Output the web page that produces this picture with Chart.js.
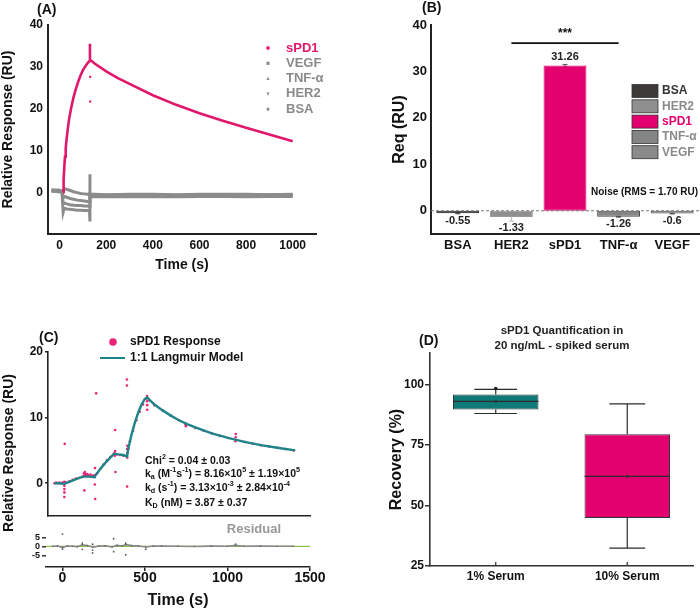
<!DOCTYPE html>
<html><head><meta charset="utf-8">
<script src="https://cdn.jsdelivr.net/npm/chart.js@4.4.1/dist/chart.umd.min.js"></script>
<style>
html,body{margin:0;padding:0;background:#fff;}
#wrap{position:relative;width:700px;height:610px;overflow:hidden;background:#fff;}
canvas{position:absolute;}
</style></head><body>
<div id="wrap">
<canvas id="cA" width="350" height="290" style="left:0;top:0"></canvas>
<canvas id="cB" width="350" height="290" style="left:350px;top:0"></canvas>
<canvas id="cC" width="350" height="310" style="left:0;top:300px"></canvas>
<canvas id="cR" width="350" height="90" style="left:0;top:520px"></canvas>
<canvas id="cD" width="350" height="310" style="left:350px;top:300px"></canvas>
</div>
<script>
// ================= DATA =================
// ---- Panel A: sensorgrams ----
const seriesA = ['sPD1','VEGF','TNF-α','HER2','BSA'];
const xTicksA = [0,200,400,600,800,1000];
const yTicksA = [0,10,20,30,40];
const timeSPD1 = [15,17,20,23,26,30,35,40,50,60,70,80,90,100,110,120,128,130,130,135,150,200,250,300,400,500,600,700,800,900,1000];
const respSPD1 = [0,3,6,8.5,10.5,12.8,15.2,17.3,20.3,22.8,24.8,26.5,28,29.2,30.1,30.9,31.4,35.5,31.6,31.5,30.8,28.9,27.3,25.9,23.2,20.9,18.9,17.1,15.4,13.8,12.2];
const strayTimeSPD1 = [131,131];
const strayRespSPD1 = [27.6,21.7];
const timeGray = [-35,-20,-5,10,15,20,30,45,60,75,90,105,120,128,130,130,132,150,200,300,400,500,600,700,800,900,1000];
const respVEGF = [0.6,0.5,0.5,0.3,0.2,0.8,0.7,0.4,0.1,-0.1,-0.3,-0.4,-0.5,-0.6,4.3,-0.5,-0.5,-0.5,-0.6,-0.5,-0.5,-0.6,-0.5,-0.5,-0.5,-0.6,-0.5];
const respTNF  = [0.4,0.3,0.3,0.2,-1.2,-1.0,-1.2,-1.5,-1.7,-1.9,-2.0,-2.1,-2.2,-2.3,-2.3,-0.9,-0.9,-0.8,-0.9,-0.8,-0.8,-0.9,-0.8,-0.8,-0.9,-0.8,-0.8];
const respHER2 = [0.2,0.2,0.1,0,-2.5,-2.6,-2.8,-3.0,-3.1,-3.2,-3.2,-3.3,-3.3,-3.4,-3.4,-1.2,-1.1,-1.1,-1.0,-1.1,-1.0,-1.1,-1.0,-1.0,-1.1,-1.0,-1.0];
const respBSA  = [0.3,0.3,0.2,0.1,-4.8,-3.8,-4.0,-4.1,-4.2,-4.3,-4.3,-4.4,-4.4,-4.5,-7.0,-0.6,-0.7,-0.6,-0.7,-0.6,-0.6,-0.7,-0.6,-0.6,-0.7,-0.6,-0.6];

// ---- Panel B: equilibrium response ----
const categoriesB = ['BSA','HER2','sPD1','TNF-α','VEGF'];
const reqB = [-0.55,-1.33,31.26,-1.26,-0.6];
const errB = [0.1,0.9,0.25,0.1,0.08];
const valueLabelsB = ['-0.55','-1.33','31.26','-1.26','-0.6'];
const yTicksB = [0,10,20,30,40];
const noiseRMS = 1.70;

// ---- Panel C: kinetics fit ----
const xTicksC = [0,500,1000,1500];
const yTicksC = [0,10,20];
const yTicksRes = [-5,0,5];
const modelT = [-60,-30,0,30,60,90,120,150,185,190,220,250,280,305,330,360,383,390,410,430,450,470,490,505,520,550,600,650,700,750,800,900,1000,1100,1200,1300,1410];
const modelR = [0,0,-0.1,0.2,0.5,0.8,1.0,1.0,0.9,1.2,2.2,3.1,3.9,4.5,4.4,4.3,4.1,5.2,7.4,9.2,10.7,11.9,12.8,13.1,12.7,12.0,11.1,10.3,9.6,9.0,8.5,7.6,6.9,6.3,5.8,5.4,5.0];
const respT = [-60,-50,-40,-30,-20,-10,0,0,0,0,0,2,10,30,50,70,90,110,120,122,125,128,130,135,140,150,160,170,180,122,185,187,188,186,194,200,220,240,260,280,300,305,308,310,310,312,320,340,360,380,383,383,384,384,383,382,382,390,400,420,440,460,480,500,505,505,506,506,520,550,600,650,700,740,742,800,850,900,950,1000,1045,1046,1047,1100,1150,1200,1250,1300,1350,1400];
const respR = [0,0.1,0,0.1,0,0.1,0.2,-0.4,-0.9,-1.4,-2.1,6.0,0.1,0.3,0.5,0.7,0.8,1.0,1.5,1.2,1.7,1.3,1.4,1.2,1.4,1.2,1.3,1.1,1.2,-1.1,1.0,2.3,-2.4,-0.2,13.7,1.5,2.2,2.9,3.5,4.0,4.4,4.6,4.2,4.9,8.1,1.7,4.4,4.3,4.2,4.1,4.6,5.2,5.7,3.9,-0.5,15.8,14.9,5.3,6.4,8.0,9.6,10.9,12.0,12.9,13.3,12.5,11.9,11.2,12.6,11.9,11.1,10.3,9.6,9.0,8.7,8.4,8.0,7.6,7.2,6.9,6.4,7.0,7.5,6.3,6.0,5.8,5.6,5.4,5.2,5.0];
const resT = [-60,-30,0,30,60,90,120,150,185,220,260,300,330,360,383,420,460,505,550,600,700,800,900,1000,1049,1100,1200,1300,1400];
const resR = [0,0.2,-0.6,0.2,0,-0.2,0.8,0.4,-0.5,0.2,0.3,-0.4,0.5,0.2,0.9,0.4,0.2,-0.4,0.2,0.1,0,-0.1,0.1,0,0.5,0,0.1,0,0];
const resOutT = [0,0,120,120,182,182,182,310,310,383,383,505,1049];
const resOutR = [6.8,-1.5,1.8,-1.7,1.2,-2.1,-3.7,4.2,-3.0,1.7,-4.7,-1.6,1.2];
const fitChi2 = '0.04 ± 0.03';
const fitKa = ['8.16×10','5',' ± 1.19×10','5'];
const fitKd = ['3.13×10','-3',' ± 2.84×10','-4'];
const fitKD = '3.87 ± 0.37';

// ---- Panel D: recovery box plots ----
const groupsD = ['1% Serum','10% Serum'];
const q1D = [89.7,44.8];
const medianD = [93,62];
const q3D = [95.9,79.4];
const minD = [88,32.4];
const maxD = [98,92];
const meanD = [93,62];
const extraPointsD = [[98.3],[]];
const yTicksD = [25,50,75,100];

// ================= STYLE / HELPERS =================
const FONT = "'Liberation Sans', Arial, Helvetica, sans-serif";
Chart.defaults.font.family = FONT;
Chart.defaults.font.weight = 'bold';
Chart.defaults.color = '#111';
const PINK = '#e3006f', PINK_A = '#e0176b', PINK_C = '#ee2277';
const TEAL_C = '#1d8588', TEAL_D = '#0e7b78', GRAY = '#8c8c8c';
const pts = (xs, ys) => xs.map((x, i) => ({x, y: ys[i]}));
const fixW = w => s => { s.width = w; };
const fixH = h => s => { s.height = h; };
const setTicks = arr => s => { s.ticks = arr.map(v => ({value: v})); };
const plain = v => String(v);
const baseOpts = {responsive:false, animation:false, events:[]};

function txt(ctx, t, x, y, size, color, align, rot) {
  ctx.save();
  ctx.font = `bold ${size}px ${FONT}`;
  ctx.fillStyle = color || '#111';
  ctx.textAlign = align || 'left';
  ctx.textBaseline = 'middle';
  ctx.translate(x, y);
  if (rot) ctx.rotate(rot);
  ctx.fillText(t, 0, 0);
  ctx.restore();
}
function rich(ctx, x, y, segs, size) {
  ctx.save();
  ctx.fillStyle = '#111'; ctx.textBaseline = 'middle'; ctx.textAlign = 'left';
  let cx = x;
  segs.forEach(([t, k]) => {
    const s = k ? size * 0.68 : size;
    ctx.font = `bold ${s}px ${FONT}`;
    const dy = k === 'sup' ? -size * 0.38 : (k === 'sub' ? size * 0.32 : 0);
    ctx.fillText(t, cx, y + dy);
    cx += ctx.measureText(t).width;
  });
  ctx.restore();
}
function marker(ctx, shape, x, y, r, color) {
  ctx.save(); ctx.fillStyle = color; ctx.beginPath();
  if (shape === 'rect') ctx.rect(x - r, y - r, 2 * r, 2 * r);
  else if (shape === 'tri') { ctx.moveTo(x, y - r * 1.2); ctx.lineTo(x + r, y + r * 0.8); ctx.lineTo(x - r, y + r * 0.8); }
  else if (shape === 'triDown') { ctx.moveTo(x, y + r * 1.2); ctx.lineTo(x + r, y - r * 0.8); ctx.lineTo(x - r, y - r * 0.8); }
  else if (shape === 'diamond') { ctx.moveTo(x, y - r * 1.3); ctx.lineTo(x + r * 1.1, y); ctx.lineTo(x, y + r * 1.3); ctx.lineTo(x - r * 1.1, y); }
  else ctx.arc(x, y, r, 0, Math.PI * 2);
  ctx.closePath(); ctx.fill(); ctx.restore();
}
function seg(ctx, x1, y1, x2, y2) { ctx.beginPath(); ctx.moveTo(x1, y1); ctx.lineTo(x2, y2); ctx.stroke(); }

// ================= PANEL A =================
const shapesA = ['rect','rect','tri','triDown','diamond'];
const legendColorsA = [PINK_A, GRAY, GRAY, GRAY, GRAY];
const plugA = {
  id: 'plugA',
  afterDraw(chart) {
    const ctx = chart.ctx;
    txt(ctx, '(A)', 37, 10, 14, '#111');
    seriesA.forEach((name, i) => {
      const y = 48 + i * 15.3;
      marker(ctx, shapesA[i], 268, y, 1.6, legendColorsA[i]);
      txt(ctx, name, 286, y, 13, i === 0 ? PINK_A : '#8a8a8a');
    });
  }
};
const grayLine = (label, data) => ({label, data: pts(timeGray, data), borderColor: GRAY, borderWidth: 3, pointRadius: 0, tension: 0});
new Chart(document.getElementById('cA'), {
  type: 'line',
  data: {datasets: [
    {label: seriesA[0], data: pts(timeSPD1, respSPD1), borderColor: PINK_A, borderWidth: 2.6, pointRadius: 0, tension: 0},
    {label: 'sPD1 points', data: pts(strayTimeSPD1, strayRespSPD1), showLine: false, pointStyle: 'rect', pointRadius: 1.5, backgroundColor: PINK_A, borderWidth: 0},
    grayLine(seriesA[1], respVEGF), grayLine(seriesA[2], respTNF), grayLine(seriesA[3], respHER2), grayLine(seriesA[4], respBSA)
  ]},
  options: Object.assign({}, baseOpts, {
    layout: {padding: {top: 25, right: 34, left: 0, bottom: 0}},
    plugins: {legend: {display: false}, tooltip: {enabled: false}},
    scales: {
      x: {type: 'linear', min: -50, max: 1100, afterBuildTicks: setTicks(xTicksA), afterFit: fixH(56),
          grid: {display: false, drawTicks: false}, border: {display: true, color: '#222', width: 2},
          ticks: {padding: 4, color: '#111', font: {size: 12, weight: 'bold'}, maxRotation: 0, autoSkip: false, callback: plain},
          title: {display: true, text: 'Time (s)', color: '#111', font: {size: 14, weight: 'bold'}, padding: {top: 0, bottom: 16}}},
      y: {type: 'linear', min: -10, max: 40, afterBuildTicks: setTicks(yTicksA), afterFit: fixW(48),
          grid: {display: false, drawTicks: false}, border: {display: true, color: '#222', width: 2},
          ticks: {padding: 5, color: '#111', font: {size: 12, weight: 'bold'}, callback: plain},
          title: {display: true, text: 'Relative Response (RU)', color: '#111', font: {size: 14, weight: 'bold'}, padding: {top: 0, bottom: 0}}}
    }
  }),
  plugins: [plugA]
});

// ================= PANEL B =================
const barColorsB = ['#3f3a3a','#8f8f8f',PINK,'#858585','#8a8a8a'];
const barBordersB = ['#222','#9a9a9a',PINK,'#444','#555'];
const legendTextB = ['#333','#8a8a8a',PINK,'#8a8a8a','#8a8a8a'];
const errColorsB = ['#444','#bdbdbd','#555','#444','#444'];
const plugB = {
  id: 'plugB',
  beforeDatasetsDraw(chart) {
    const ctx = chart.ctx, ys = chart.scales.y, meta = chart.getDatasetMeta(0);
    meta.data.forEach((bar, i) => {
      ctx.save(); ctx.strokeStyle = errColorsB[i]; ctx.lineWidth = 1;
      const yt = ys.getPixelForValue(reqB[i] + errB[i]), yb = ys.getPixelForValue(reqB[i] - errB[i]);
      seg(ctx, bar.x, yt, bar.x, yb); seg(ctx, bar.x - 2.5, yt, bar.x + 2.5, yt); seg(ctx, bar.x - 2.5, yb, bar.x + 2.5, yb);
      ctx.restore();
    });
  },
  afterDatasetsDraw(chart) {
    const ctx = chart.ctx, ys = chart.scales.y, xs = chart.scales.x, a = chart.chartArea, meta = chart.getDatasetMeta(0);
    ctx.save(); ctx.strokeStyle = '#777'; ctx.lineWidth = 1; ctx.setLineDash([3, 2]);
    const y0 = ys.getPixelForValue(0); seg(ctx, a.left, y0, a.right, y0); ctx.restore();
    meta.data.forEach((bar, i) => {
      const v = reqB[i], e = errB[i];
      const y = v >= 0 ? ys.getPixelForValue(v + e) - 7 : ys.getPixelForValue(v - e) + 7;
      txt(ctx, valueLabelsB[i], bar.x, y, 11, '#222', 'center');
    });
    const xa = xs.getPixelForValue(1), xb = xs.getPixelForValue(3);
    ctx.save(); ctx.strokeStyle = '#111'; ctx.lineWidth = 1.6;
    const yl = ys.getPixelForValue(36.1); seg(ctx, xa, yl, xb, yl); ctx.restore();
    txt(ctx, '***', (xa + xb) / 2, ys.getPixelForValue(38.1), 12, '#111', 'center');
    txt(ctx, 'Noise (RMS = ' + noiseRMS.toFixed(2) + ' RU)', 348, ys.getPixelForValue(3.9), 10, '#111', 'right');
  },
  afterDraw(chart) {
    const ctx = chart.ctx;
    txt(ctx, '(B)', 72, 8, 14, '#111');
    categoriesB.forEach((c, i) => {
      const y = 91 + i * 15.3;
      ctx.save(); ctx.fillStyle = barColorsB[i]; ctx.strokeStyle = '#333'; ctx.lineWidth = 0.8;
      ctx.fillRect(282, y - 6.5, 26, 13); ctx.strokeRect(282, y - 6.5, 26, 13); ctx.restore();
      txt(ctx, c, 312, y, 12, legendTextB[i]);
    });
  }
};
new Chart(document.getElementById('cB'), {
  type: 'bar',
  data: {labels: categoriesB, datasets: [{label: 'Req', data: reqB, backgroundColor: barColorsB, borderColor: barBordersB, borderWidth: 1, borderSkipped: false, barPercentage: 0.8, categoryPercentage: 1}]},
  options: Object.assign({}, baseOpts, {
    layout: {padding: {top: 25, right: 1, left: 0, bottom: 0}},
    plugins: {legend: {display: false}, tooltip: {enabled: false}},
    scales: {
      x: {afterFit: fixH(56), grid: {display: false, drawTicks: false}, border: {display: true, color: '#222', width: 2},
          ticks: {padding: 4, color: '#111', font: {size: 13, weight: 'bold'}, maxRotation: 0, autoSkip: false}},
      y: {min: -5, max: 40, afterBuildTicks: setTicks(yTicksB), afterFit: fixW(81),
          grid: {display: false, drawTicks: false}, border: {display: true, color: '#222', width: 2},
          ticks: {padding: 4, color: '#111', font: {size: 13, weight: 'bold'}, callback: plain},
          title: {display: true, text: 'Req (RU)', color: '#111', font: {size: 16, weight: 'bold'}, padding: {top: 40, bottom: 0}}}
    }
  }),
  plugins: [plugB]
});

// ================= PANEL C (main) =================
const plugC = {
  id: 'plugC',
  afterDraw(chart) {
    const ctx = chart.ctx;
    txt(ctx, '(C)', 39, 38, 14, '#111');
    txt(ctx, 'Relative Response (RU)', 9, 153, 14, '#111', 'center', -Math.PI / 2);
    marker(ctx, 'circle', 113, 42, 3.8, PINK_C);
    txt(ctx, 'sPD1 Response', 130, 42, 12, '#111');
    ctx.save(); ctx.strokeStyle = TEAL_C; ctx.lineWidth = 2; seg(ctx, 100, 58, 125, 58); ctx.restore();
    txt(ctx, '1:1 Langmuir Model', 130, 58, 12, '#111');
    const fs = 10.5;
    rich(ctx, 145, 161, [['Chi', ''], ['2', 'sup'], [' = ' + fitChi2, '']], fs);
    rich(ctx, 145, 174, [['k', ''], ['a', 'sub'], [' (M', ''], ['-1', 'sup'], ['s', ''], ['-1', 'sup'], [') = ' + fitKa[0], ''], [fitKa[1], 'sup'], [fitKa[2], ''], [fitKa[3], 'sup']], fs);
    rich(ctx, 145, 188, [['k', ''], ['d', 'sub'], [' (s', ''], ['-1', 'sup'], [') = ' + fitKd[0], ''], [fitKd[1], 'sup'], [fitKd[2], ''], [fitKd[3], 'sup']], fs);
    rich(ctx, 145, 203, [['K', ''], ['D', 'sub'], [' (nM) = ' + fitKD, '']], fs);
  }
};
new Chart(document.getElementById('cC'), {
  type: 'line',
  data: {datasets: [
    {label: '1:1 Langmuir Model', data: pts(modelT, modelR), borderColor: TEAL_C, borderWidth: 2.4, pointRadius: 0, tension: 0},
    {label: 'sPD1 Response', data: pts(respT, respR), showLine: false, pointRadius: 1.3, backgroundColor: PINK_C, borderWidth: 0}
  ]},
  options: Object.assign({}, baseOpts, {
    layout: {padding: {top: 52, right: 40, left: 0, bottom: 0}},
    plugins: {legend: {display: false}, tooltip: {enabled: false}},
    scales: {
      x: {type: 'linear', min: -100, max: 1500, afterFit: fixH(94), grid: {display: false, drawTicks: false},
          border: {display: true, color: '#222', width: 1.6}, ticks: {display: false}},
      y: {type: 'linear', min: -5, max: 20, afterBuildTicks: setTicks(yTicksC), afterFit: fixW(48),
          grid: {display: true, drawOnChartArea: false, drawTicks: true, tickLength: 3, color: '#222', lineWidth: 1.5},
          border: {display: true, color: '#222', width: 1.6},
          ticks: {padding: 2, color: '#111', font: {size: 12, weight: 'bold'}, callback: plain}}
    }
  }),
  plugins: [plugC]
});

// ================= PANEL C (residual) =================
const plugR = {
  id: 'plugR',
  afterDraw(chart) {
    const xs = chart.scales.x, ys = chart.scales.y;
    txt(chart.ctx, 'Residual', xs.getPixelForValue(1160), ys.getPixelForValue(9.3), 13, '#999', 'center');
  }
};
new Chart(document.getElementById('cR'), {
  type: 'line',
  data: {datasets: [
    {label: 'Residual', data: pts(resT, resR), borderColor: '#8a8a8a', borderWidth: 1.6, pointRadius: 0.8, pointBackgroundColor: '#666', pointBorderWidth: 0, tension: 0},
    {label: 'Residual outliers', data: pts(resOutT, resOutR), showLine: false, pointRadius: 0.9, backgroundColor: '#555', borderWidth: 0},
    {label: 'Zero', data: [{x: -100, y: 0}, {x: 1500, y: 0}], borderColor: '#8bc34a', borderWidth: 1.2, pointRadius: 0}
  ]},
  options: Object.assign({}, baseOpts, {
    layout: {padding: {top: 5, right: 40, left: 0, bottom: 0}},
    plugins: {legend: {display: false}, tooltip: {enabled: false}},
    scales: {
      x: {type: 'linear', min: -100, max: 1500, afterBuildTicks: setTicks(xTicksC), afterFit: fixH(43),
          grid: {display: true, drawOnChartArea: false, drawTicks: true, tickLength: 4, color: '#222', lineWidth: 1.5},
          border: {display: true, color: '#222', width: 1.6},
          ticks: {padding: 0, color: '#111', font: {size: 14, weight: 'bold', lineHeight: 1}, maxRotation: 0, autoSkip: false, callback: plain},
          title: {display: true, text: 'Time (s)', color: '#111', font: {size: 16, weight: 'bold'}, padding: {top: 0, bottom: 0}}},
      y: {type: 'linear', min: -11.5, max: 10.5, afterBuildTicks: setTicks(yTicksRes), afterFit: fixW(46),
          grid: {display: true, drawOnChartArea: false, drawTicks: true, tickLength: 4, color: '#333', lineWidth: 1.5},
          border: {display: false},
          ticks: {padding: 2, color: '#111', font: {size: 9, weight: 'bold'}, callback: plain}}
    }
  }),
  plugins: [plugR]
});

// ================= PANEL D =================
const boxColorsD = [TEAL_D, PINK];
const capFracD = [0.5, 0.42];
const plugD = {
  id: 'plugD',
  afterDatasetsDraw(chart) {
    const ctx = chart.ctx, ys = chart.scales.y, a = chart.chartArea, meta = chart.getDatasetMeta(0);
    meta.data.forEach((bar, i) => {
      const cx = bar.x, w = bar.width;
      ctx.save(); ctx.strokeStyle = '#2b2b2b'; ctx.lineWidth = 1.2;
      const ym = ys.getPixelForValue(medianD[i]);
      seg(ctx, cx - w / 2, ym, cx + w / 2, ym);
      const yq3 = ys.getPixelForValue(q3D[i]), yq1 = ys.getPixelForValue(q1D[i]);
      const yhi = ys.getPixelForValue(maxD[i]), ylo = ys.getPixelForValue(minD[i]);
      seg(ctx, cx, yq3, cx, yhi); seg(ctx, cx, yq1, cx, ylo);
      const cw = w * capFracD[i] / 2;
      seg(ctx, cx - cw, yhi, cx + cw, yhi); seg(ctx, cx - cw, ylo, cx + cw, ylo);
      seg(ctx, cx, a.bottom, cx, a.bottom - 4);
      ctx.restore();
      marker(ctx, 'rect', cx, ys.getPixelForValue(meanD[i]), 1.3, '#333');
      extraPointsD[i].forEach(v => marker(ctx, 'circle', cx, ys.getPixelForValue(v), 1.8, '#222'));
    });
  },
  afterDraw(chart) {
    const ctx = chart.ctx;
    txt(ctx, '(D)', 69, 41, 14, '#111');
    txt(ctx, 'sPD1 Quantification in', 212, 31, 11.5, '#222', 'center');
    txt(ctx, '20 ng/mL - spiked serum', 212, 46, 11.5, '#222', 'center');
  }
};
new Chart(document.getElementById('cD'), {
  type: 'bar',
  data: {labels: groupsD, datasets: [{label: 'Recovery', data: q1D.map((q, i) => [q, q3D[i]]), backgroundColor: boxColorsD, borderColor: '#333', borderWidth: 1, borderSkipped: false, barPercentage: 0.65, categoryPercentage: 1}]},
  options: Object.assign({}, baseOpts, {
    layout: {padding: {top: 53, right: 7, left: 0, bottom: 0}},
    plugins: {legend: {display: false}, tooltip: {enabled: false}},
    scales: {
      x: {afterFit: fixH(44), grid: {display: false, drawTicks: false}, border: {display: true, color: '#333', width: 1.6},
          ticks: {padding: 3, color: '#111', font: {size: 12, weight: 'bold'}, maxRotation: 0, autoSkip: false}},
      y: {min: 25, max: 113, afterBuildTicks: setTicks(yTicksD), afterFit: fixW(80),
          grid: {display: true, drawOnChartArea: false, drawTicks: true, tickLength: 5, color: '#333', lineWidth: 1.5},
          border: {display: true, color: '#333', width: 1.6},
          ticks: {padding: 1, color: '#111', font: {size: 12, weight: 'bold'}, callback: plain},
          title: {display: true, text: 'Recovery (%)', color: '#111', font: {size: 16, weight: 'bold'}, padding: {top: 37, bottom: 0}}}
    }
  }),
  plugins: [plugD]
});
</script>
</body></html>
